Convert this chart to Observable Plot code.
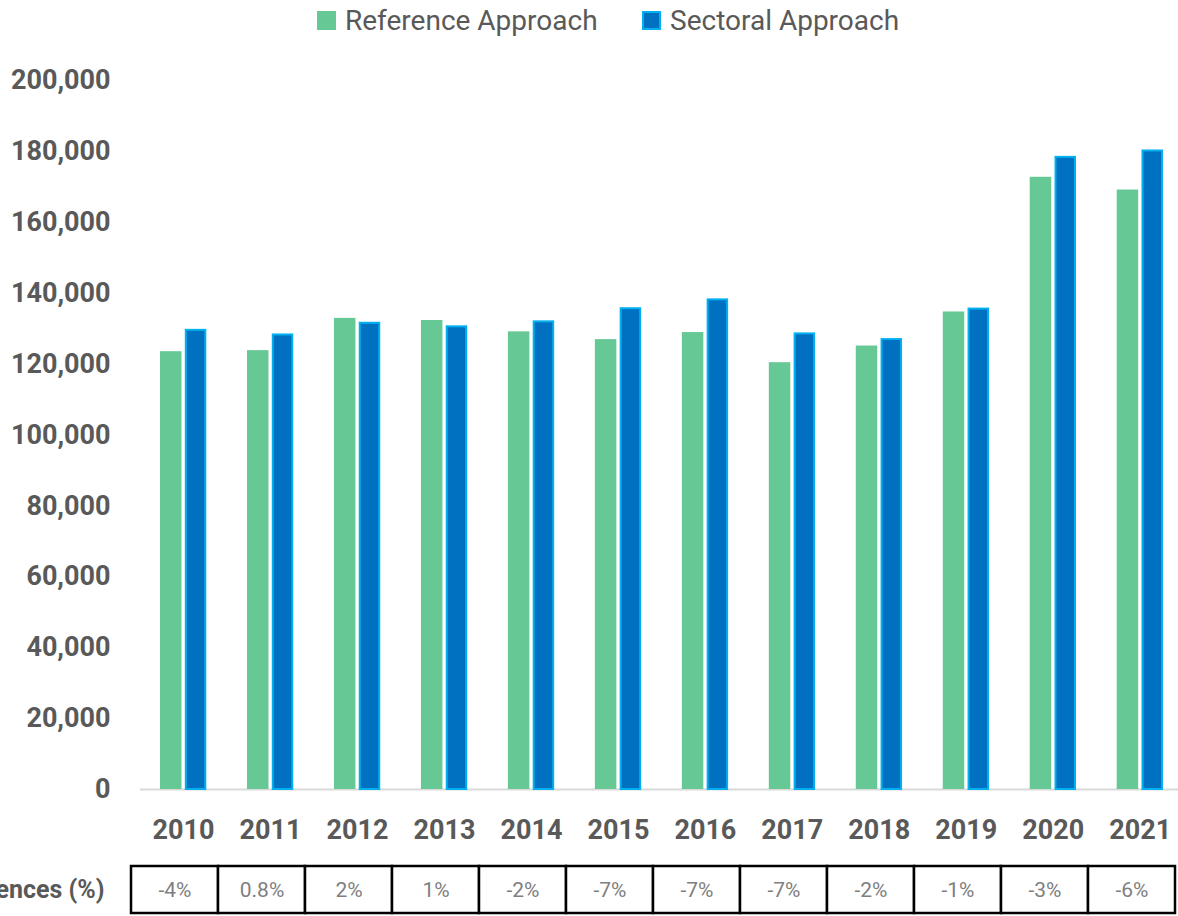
<!DOCTYPE html>
<html>
<head>
<meta charset="utf-8">
<script src="https://cdn.jsdelivr.net/npm/d3@7"></script>
<script src="https://cdn.jsdelivr.net/npm/@observablehq/plot@0.6"></script>
<style>
  html, body { margin: 0; padding: 0; background: #fff; }
  #wrap { position: relative; width: 1178px; height: 916px; overflow: hidden;
          font-family: "Roboto", sans-serif; color: #595959; }
  .leg { position: absolute; top: 0; height: 40px; display: flex; align-items: center; font-size: 28px; }
  .sw { width: 19px; height: 19px; margin-right: 9px; box-sizing: border-box; }
  #main { position: absolute; left: 0; top: 40px; }
  #table { position: absolute; left: 0; top: 860px; }
</style>
</head>
<body>
<div id="wrap">
  <div class="leg" style="left:317px"><div class="sw" style="background:#66C995"></div>Reference Approach</div>
  <div class="leg" style="left:642px"><div class="sw" style="background:#0070C0;border:2px solid #00B0F0"></div>Sectoral Approach</div>
  <div id="main"></div>
  <div id="table"></div>
</div>
<script>
const years = ["2010","2011","2012","2013","2014","2015","2016","2017","2018","2019","2020","2021"];
const referenceApproach = [123500, 123800, 132900, 132300, 129100, 126900, 128900, 120400, 125100, 134700, 172700, 169100];
const sectoralApproach = [129800, 128500, 131800, 130800, 132200, 135900, 138400, 128800, 127200, 135800, 178600, 180400];
const differences = ["-4%", "0.8%", "2%", "1%", "-2%", "-7%", "-7%", "-7%", "-2%", "-1%", "-3%", "-6%"];
const yTicks = [0, 20000, 40000, 60000, 80000, 100000, 120000, 140000, 160000, 180000, 200000];

const data = years.map((y, i) => ({year: y, ref: referenceApproach[i], sec: sectoralApproach[i], diff: differences[i]}));
const font = '"Roboto", sans-serif';

const main = Plot.plot({
  width: 1178,
  height: 820,
  marginTop: 40,
  marginBottom: 71,
  marginLeft: 140,
  marginRight: 0,
  style: {fontFamily: font, fontSize: "27px", fontWeight: "bold", color: "#595959", background: "transparent"},
  x: {domain: years, paddingInner: 0.753, paddingOuter: 0.344, align: 0.54, round: false},
  y: {domain: [0, 200000]},
  marks: [
    Plot.ruleY([0], {stroke: "#D9D9D9", strokeWidth: 2}),
    Plot.barY(data, {x: "year", y: "ref", fill: "#66C995", dx: -12.3}),
    Plot.barY(data, {x: "year", y: "sec", fill: "#0070C0", stroke: "#00B0F0", strokeWidth: 2,
                     insetLeft: 1, insetRight: 1, insetTop: 1, dx: 12.5}),
    Plot.axisY({ticks: yTicks, tickFormat: d3.format(","), tickSize: 0, tickPadding: 30, label: null}),
    Plot.axisX({tickSize: 0, tickPadding: 30, label: null})
  ]
});
document.getElementById("main").appendChild(main);

const table = Plot.plot({
  width: 1178,
  height: 56,
  marginTop: 6,
  marginBottom: 3,
  marginLeft: 128,
  marginRight: 1,
  style: {fontFamily: font, fontSize: "21px", background: "transparent", overflow: "visible"},
  x: {domain: years, padding: 0, axis: null},
  marks: [
    Plot.cell(data, {x: "year", fill: "white", stroke: "black", strokeWidth: 2.5}),
    Plot.text(data, {x: "year", text: "diff", fill: "#7F7F7F", fontSize: 21}),
    Plot.text(["Differences (%)"], {frameAnchor: "left", dx: -24, textAnchor: "end", fill: "#595959", fontSize: 25, fontWeight: "bold"})
  ]
});
document.getElementById("table").appendChild(table);
</script>
</body>
</html>
